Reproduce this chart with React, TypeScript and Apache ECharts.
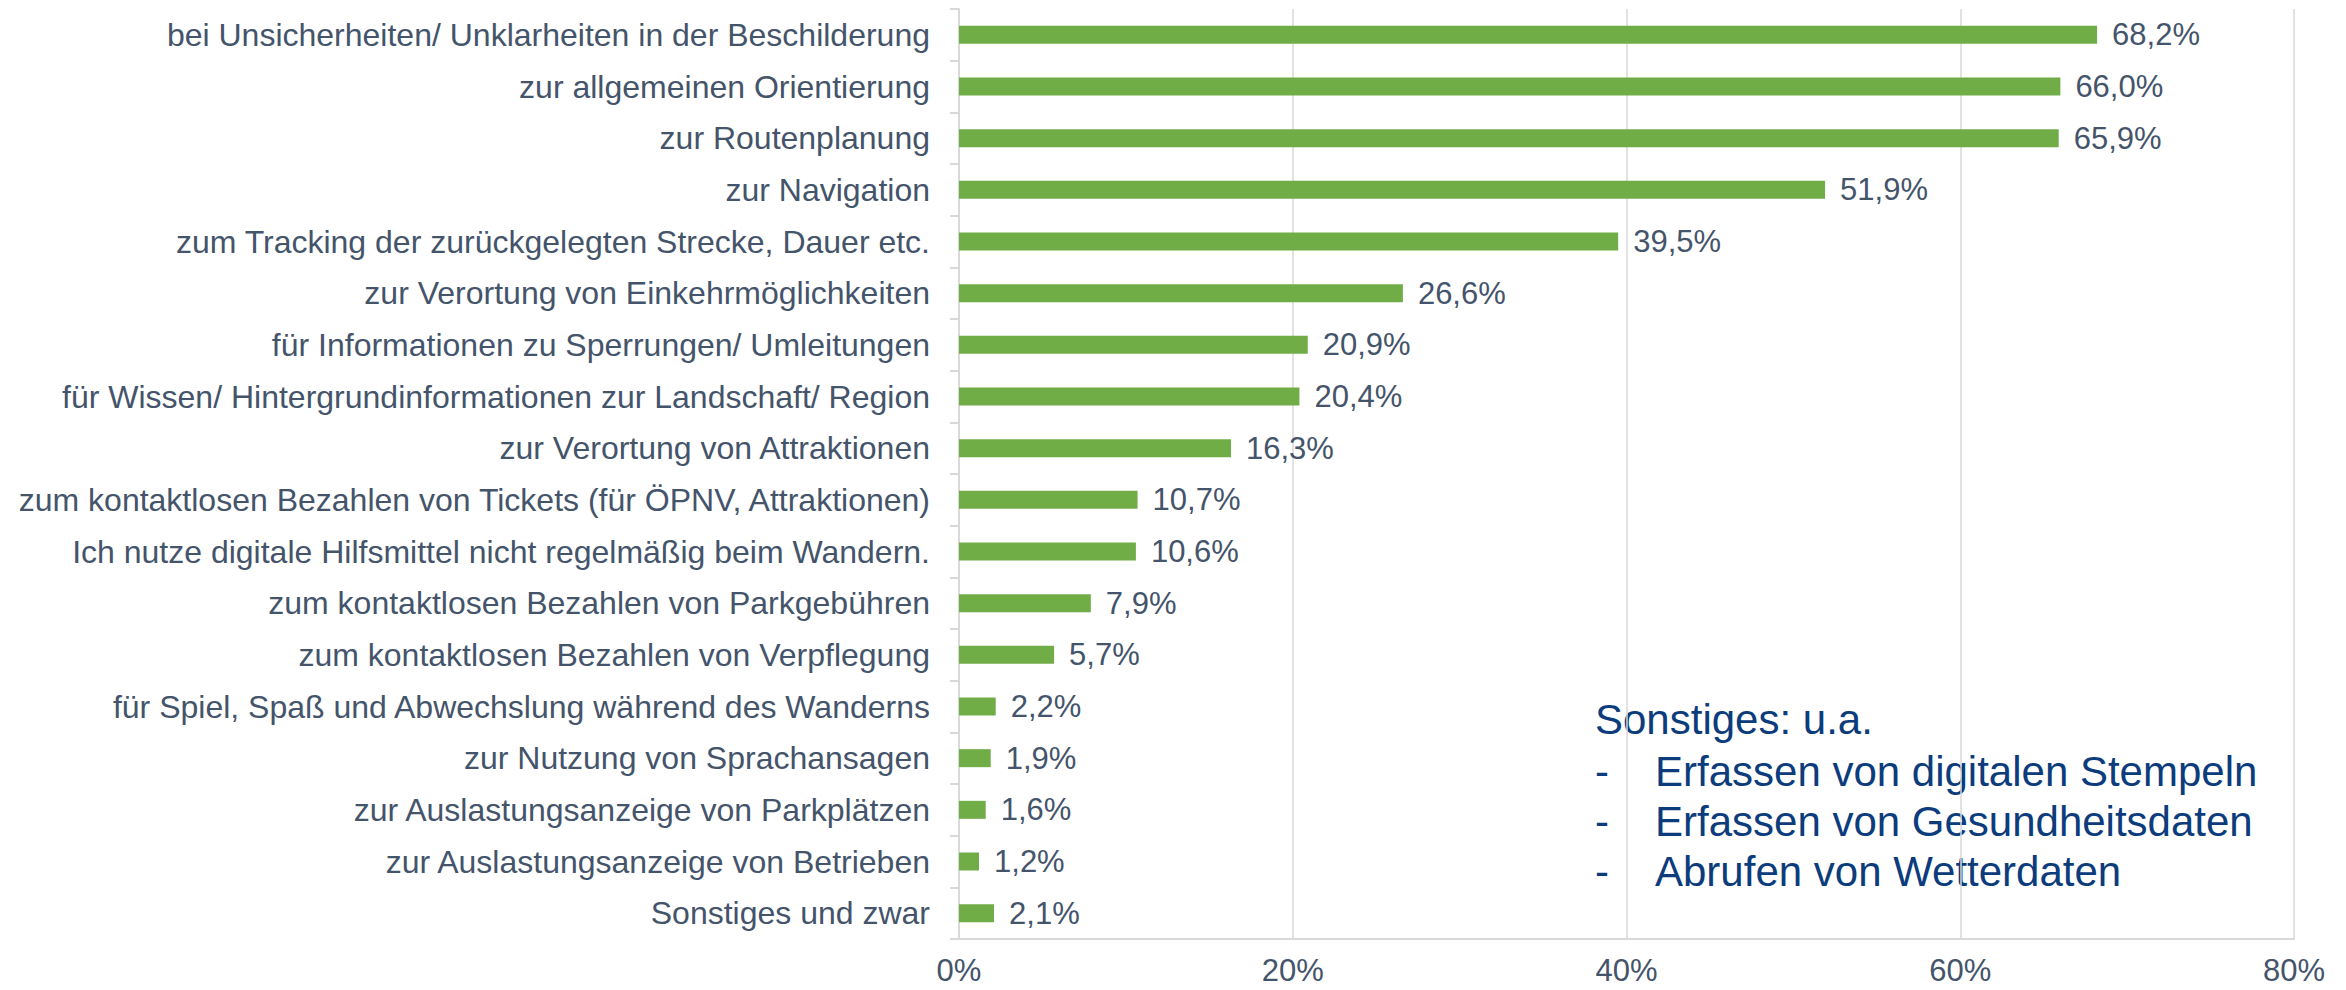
import React, { useEffect, useRef } from "react";
import * as echarts from "echarts";

const categories = [
  "bei Unsicherheiten/ Unklarheiten in der Beschilderung",
  "zur allgemeinen Orientierung",
  "zur Routenplanung",
  "zur Navigation",
  "zum Tracking der zurückgelegten Strecke, Dauer etc.",
  "zur Verortung von Einkehrmöglichkeiten",
  "für Informationen zu Sperrungen/ Umleitungen",
  "für Wissen/ Hintergrundinformationen zur Landschaft/ Region",
  "zur Verortung von Attraktionen",
  "zum kontaktlosen Bezahlen von Tickets (für ÖPNV, Attraktionen)",
  "Ich nutze digitale Hilfsmittel nicht regelmäßig beim Wandern.",
  "zum kontaktlosen Bezahlen von Parkgebühren",
  "zum kontaktlosen Bezahlen von Verpflegung",
  "für Spiel, Spaß und Abwechslung während des Wanderns",
  "zur Nutzung von Sprachansagen",
  "zur Auslastungsanzeige von Parkplätzen",
  "zur Auslastungsanzeige von Betrieben",
  "Sonstiges und zwar",
];

const values = [68.2, 66.0, 65.9, 51.9, 39.5, 26.6, 20.9, 20.4, 16.3, 10.7, 10.6, 7.9, 5.7, 2.2, 1.9, 1.6, 1.2, 2.1];

const noteTitle = "Sonstiges: u.a.";
const noteItems = [
  "Erfassen von digitalen Stempeln",
  "Erfassen von Gesundheitsdaten",
  "Abrufen von Wetterdaten",
];

const FONT = '"Liberation Sans", Arial, sans-serif';
const TEXT = "#44546A";
const NOTE = "#0C3C7C";
const GRID = "#D9D9D9";

export default function App() {
  const ref = useRef<HTMLDivElement>(null);
  useEffect(() => {
    if (!ref.current) return;
    const chart = echarts.init(ref.current, null, { renderer: "svg" });
    const noteGraphics: any[] = [
      {
        type: "text",
        left: 1595,
        top: 722 - 24,
        style: { text: noteTitle, font: `42px ${FONT}`, fill: NOTE },
      },
    ];
    noteItems.forEach((t, i) => {
      const cy = 774 + i * 50;
      noteGraphics.push({
        type: "text",
        left: 1595,
        top: cy - 24,
        style: { text: "-", font: `42px ${FONT}`, fill: NOTE },
      });
      noteGraphics.push({
        type: "text",
        left: 1655,
        top: cy - 24,
        style: { text: t, font: `42px ${FONT}`, fill: NOTE },
      });
    });
    chart.setOption({
      animation: false,
      backgroundColor: "#ffffff",
      grid: { left: 959, right: 52, top: 9, bottom: 51, containLabel: false },
      xAxis: {
        type: "value",
        min: 0,
        max: 80,
        interval: 20,
        axisLine: { show: true, lineStyle: { color: GRID, width: 2 } },
        axisTick: { show: false },
        splitLine: { show: true, lineStyle: { color: GRID, width: 1.5 } },
        axisLabel: {
          formatter: "{value}%",
          color: TEXT,
          fontFamily: FONT,
          fontSize: 31,
          margin: 16,
        },
      },
      yAxis: {
        type: "category",
        data: categories,
        inverse: true,
        axisLine: { show: true, lineStyle: { color: GRID, width: 2 } },
        axisTick: { show: true, length: 9, lineStyle: { color: GRID, width: 2 } },
        axisLabel: {
          color: TEXT,
          fontFamily: FONT,
          fontSize: 32,
          margin: 29,
        },
      },
      series: [
        {
          type: "bar",
          data: values,
          barWidth: 18,
          itemStyle: { color: "#70AD47" },
          label: {
            show: true,
            position: "right",
            distance: 15,
            color: TEXT,
            fontFamily: FONT,
            fontSize: 31,
            formatter: (p: any) => p.value.toFixed(1).replace(".", ",") + "%",
          },
        },
      ],
      graphic: noteGraphics,
    });
    return () => chart.dispose();
  }, []);
  return (
    <div
      ref={ref}
      style={{ position: "fixed", left: 0, top: 0, width: 2346, height: 990 }}
    />
  );
}
